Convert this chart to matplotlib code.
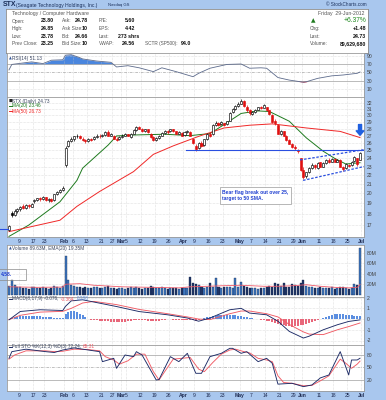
import numpy as np
import matplotlib
matplotlib.use('Agg')
import matplotlib.pyplot as plt
from matplotlib.lines import Line2D
from matplotlib.patches import Rectangle
from matplotlib.ticker import FixedLocator, FixedFormatter, NullLocator

plt.rcParams['font.family'] = ['Liberation Sans', 'DejaVu Sans']

# ---------------- data (trading days Jan 3 .. Jun 29, 2012) ----------------
opens = [16.55, 18.10, 17.90, 18.30, 18.45, 18.75, 18.50, 18.80, 18.65, 19.20,
         19.30, 19.50, 19.40, 19.60, 19.30, 19.40, 19.30, 19.95, 20.10, 20.40,
         23.20, 25.60, 26.30, 26.50, 26.90, 27.00, 26.60, 26.40, 26.20, 26.50,
         26.50, 26.80, 27.00, 26.90, 27.10, 27.50, 27.00, 27.00, 26.60, 26.50,
         26.80, 27.00, 27.20, 26.80, 27.30, 27.80, 28.20, 28.00, 27.60, 27.90,
         27.30, 26.80, 26.40, 26.70, 27.00, 27.40, 27.70, 27.60, 27.90, 27.60,
         27.30, 27.40, 27.10, 27.50, 27.50, 26.60, 25.60, 25.30, 26.00, 25.70,
         26.50, 27.30, 27.20, 28.60, 28.90, 28.70, 28.80, 28.70, 29.20, 30.50,
         31.00, 31.50, 31.90, 32.40, 31.40, 30.80, 30.20, 30.50, 30.90, 31.30,
         31.20, 31.30, 30.80, 30.10, 29.20, 28.60, 27.30, 27.60, 27.00, 26.40,
         25.90, 25.50, 25.00, 24.00, 22.60, 21.90, 22.30, 22.80, 23.20, 22.80,
         23.50, 23.00, 23.40, 23.80, 23.60, 23.90, 23.60, 23.80, 23.00, 22.80,
         23.20, 23.20, 23.70, 24.00, 23.80]
highs = [17.00, 18.25, 18.40, 18.55, 18.75, 18.90, 18.90, 18.95, 19.05, 19.45,
         19.55, 19.60, 19.70, 19.65, 19.50, 19.50, 19.95, 20.30, 20.50, 20.75,
         25.60, 26.40, 26.80, 27.00, 27.20, 27.10, 26.80, 26.60, 26.70, 26.70,
         26.90, 27.20, 27.20, 27.30, 27.70, 27.80, 27.40, 27.10, 26.80, 26.90,
         27.20, 27.40, 27.30, 27.40, 27.90, 28.40, 28.40, 28.10, 28.00, 28.00,
         27.40, 26.90, 26.80, 27.10, 27.50, 27.80, 27.80, 28.00, 28.00, 27.70,
         27.60, 27.50, 27.60, 27.80, 27.60, 26.70, 25.80, 26.10, 26.20, 26.60,
         27.40, 27.50, 28.70, 29.10, 29.00, 29.20, 28.90, 29.20, 30.60, 31.20,
         31.70, 32.10, 32.60, 32.50, 31.60, 31.00, 30.70, 31.00, 31.40, 31.50,
         31.80, 31.40, 30.90, 30.20, 29.40, 28.70, 27.80, 27.70, 27.10, 26.60,
         26.00, 25.70, 25.20, 24.10, 22.90, 22.40, 22.90, 23.40, 23.30, 23.50,
         23.60, 23.50, 23.90, 24.00, 24.00, 24.10, 23.90, 23.90, 23.10, 23.40,
         23.30, 23.70, 24.30, 24.10, 24.85]
lows = [16.45, 17.70, 17.80, 18.10, 18.30, 18.40, 18.45, 18.55, 18.60, 19.05,
        19.20, 19.25, 19.35, 19.20, 19.15, 19.10, 19.25, 19.85, 20.00, 20.25,
        23.00, 25.50, 26.10, 26.30, 26.70, 26.50, 26.20, 26.00, 26.10, 26.20,
        26.40, 26.70, 26.70, 26.80, 27.00, 26.90, 26.90, 26.50, 26.30, 26.40,
        26.70, 26.90, 26.90, 26.70, 27.20, 27.70, 27.90, 27.50, 27.50, 27.40,
        26.70, 26.30, 26.30, 26.60, 26.90, 27.30, 27.30, 27.50, 27.50, 27.20,
        27.20, 26.90, 27.00, 27.40, 26.90, 25.90, 24.90, 25.20, 25.50, 25.60,
        26.40, 26.80, 27.10, 28.40, 28.40, 28.60, 28.40, 28.60, 29.10, 30.30,
        30.90, 31.30, 31.80, 31.30, 30.60, 30.10, 30.00, 30.40, 30.80, 31.00,
        31.10, 30.70, 30.10, 28.90, 28.60, 27.20, 27.10, 26.90, 26.20, 25.80,
        25.30, 25.10, 24.70, 22.50, 21.60, 21.70, 22.20, 22.70, 22.70, 22.70,
        22.90, 22.90, 23.30, 23.40, 23.50, 23.50, 23.50, 22.90, 22.50, 22.70,
        22.90, 23.10, 23.60, 23.10, 23.78]
closes = [16.90, 17.85, 18.30, 18.45, 18.65, 18.50, 18.80, 18.70, 18.95, 19.30,
          19.50, 19.40, 19.60, 19.30, 19.40, 19.20, 19.90, 20.20, 20.40, 20.60,
          25.30, 26.20, 26.60, 26.90, 27.00, 26.70, 26.40, 26.20, 26.50, 26.40,
          26.80, 27.00, 26.90, 27.10, 27.50, 27.00, 27.20, 26.60, 26.40, 26.80,
          27.00, 27.20, 27.00, 27.30, 27.80, 28.20, 28.00, 27.60, 27.90, 27.50,
          26.80, 26.40, 26.70, 27.00, 27.40, 27.70, 27.50, 27.90, 27.60, 27.30,
          27.50, 27.00, 27.50, 27.60, 27.00, 26.00, 25.20, 26.00, 25.60, 26.50,
          27.30, 27.00, 28.60, 28.90, 28.60, 29.00, 28.60, 29.10, 30.40, 31.00,
          31.50, 31.90, 32.40, 31.50, 30.80, 30.30, 30.50, 30.90, 31.30, 31.20,
          31.60, 30.90, 30.20, 29.00, 28.80, 27.30, 27.60, 27.00, 26.40, 25.90,
          25.40, 25.30, 24.90, 22.60, 21.80, 22.30, 22.80, 23.20, 22.90, 23.40,
          23.00, 23.40, 23.80, 23.60, 23.90, 23.60, 23.80, 23.00, 22.70, 23.30,
          23.10, 23.60, 24.20, 23.25, 24.73]
volumes_m = [16, 28, 18, 14, 15, 13, 12, 11, 14, 15,
             13, 12, 14, 13, 11, 12, 16, 15, 13, 17,
             75, 28, 18, 17, 15, 14, 13, 14, 12, 13,
             14, 15, 12, 13, 14, 16, 12, 13, 11, 13,
             12, 11, 12, 14, 13, 15, 12, 11, 12, 13,
             16, 15, 12, 13, 14, 12, 11, 12, 13, 12,
             11, 12, 13, 12, 33, 22, 20, 18, 14, 13,
             14, 22, 15, 31, 15, 13, 14, 15, 14, 13,
             32, 14, 24, 16, 15, 13, 12, 13, 11, 12,
             13, 14, 16, 15, 22, 21, 16, 22, 15, 14,
             20, 18, 17, 22, 28, 17, 15, 14, 13, 12,
             14, 12, 13, 12, 15, 11, 12, 14, 15, 12,
             11, 13, 20, 19, 89.63]

ma20_idx = [0, 7, 18, 24, 26, 35, 38, 45, 55, 64, 71, 76, 82, 88, 92, 99, 105, 111, 115, 119, 124]
ma20_val = [16.0, 16.97, 19.15, 21.4, 22.8, 25.7, 26.96, 27.1, 27.2, 27.0, 27.3, 28.6, 30.3, 30.7, 30.6, 29.1, 26.7, 24.9, 24.0, 23.3, 23.46]
ma50_idx = [0, 18, 24, 32, 44, 51, 58, 67, 76, 85, 93, 105, 117, 124]
ma50_val = [16.4, 17.4, 18.7, 20.2, 22.4, 24.5, 25.6, 26.9, 28.1, 28.5, 28.7, 28.1, 27.6, 26.73]

vol_ema_idx = [0, 10, 19, 20, 25, 30, 40, 50, 60, 64, 70, 75, 82, 90, 95, 100, 105, 110, 115, 120, 123, 124]
vol_ema_val = [15, 14, 14.5, 20, 21, 18, 15, 14, 13, 15, 16, 17, 18, 16, 16, 17, 19, 16, 14, 13, 14, 19.35]

rsi_idx = [0, 1, 8, 12, 15, 19, 20, 22, 25, 26, 31, 36, 38, 42, 46, 51, 54, 59, 65, 67, 71, 77, 82, 85, 89, 91, 95, 99, 104, 105, 109, 114, 118, 123, 124]
rsi_val = [56, 69, 75, 71, 79, 80, 91, 92, 85, 82, 77, 74, 63, 66, 61, 52, 61, 52, 40, 48, 60, 69, 70, 60, 61, 60, 38, 32, 27, 28, 36, 42, 44, 48, 51.13]

macd_idx = [0, 4, 11, 19, 20, 22, 26, 38, 46, 56, 63, 67, 71, 78, 82, 85, 91, 95, 99, 104, 106, 111, 116, 120, 124]
macd_val = [-0.07, 0.71, 0.87, 0.8, 1.2, 1.7, 1.8, 1.17, 0.7, 0.4, 0.1, -0.2, 0.1, 0.87, 1.0, 0.56, 0.4, -0.2, -1.15, -1.77, -1.6, -1.0, -0.53, -0.22, -0.076]
signal_idx = [0, 4, 11, 19, 22, 26, 30, 38, 46, 56, 63, 67, 71, 78, 82, 85, 91, 95, 99, 104, 106, 111, 116, 120, 124]
signal_val = [-0.05, 0.35, 0.65, 0.72, 1.0, 1.5, 1.65, 1.35, 0.9, 0.5, 0.2, 0.0, -0.05, 0.5, 0.75, 0.75, 0.5, 0.2, -0.5, -1.2, -1.4, -1.45, -1.0, -0.7, -0.364]
hist_val = [0.05, 0.12, 0.18, 0.22, 0.25, 0.28, 0.28, 0.27, 0.25, 0.26,
            0.27, 0.26, 0.24, 0.2, 0.18, 0.15, 0.12, 0.12, 0.1,
            0.1, 0.45, 0.65, 0.75, 0.72, 0.62, 0.5, 0.35, 0.2,
            0.05, -0.05, -0.1, -0.12, -0.15, -0.18, -0.2, -0.22, -0.25, -0.27,
            -0.3, -0.28, -0.26, -0.24, -0.2, -0.17, -0.12, -0.08, -0.05, -0.06,
            -0.1, -0.15, -0.2, -0.22, -0.2, -0.16, -0.1, -0.06, -0.03, -0.02,
            -0.05, -0.08, -0.1, -0.1, -0.08, -0.05,
            -0.08, -0.12, -0.15, -0.1, -0.02,
            0.08, 0.15, 0.22, 0.28, 0.32, 0.35, 0.36, 0.38, 0.4, 0.42,
            0.4, 0.36, 0.3, 0.25, 0.2, 0.15, 0.1, 0.06, 0.03, 0.0,
            -0.05, -0.1, -0.15, -0.2, -0.28, -0.36, -0.45, -0.52, -0.58, -0.64,
            -0.68, -0.7, -0.66, -0.62, -0.58, -0.55,
            -0.45, -0.35, -0.25, -0.15, -0.06, 0.02, 0.1,
            0.2, 0.3, 0.38, 0.45, 0.5, 0.52, 0.45, 0.4, 0.38, 0.35, 0.32, 0.3, 0.288]

stok_idx = [0, 1, 6, 13, 16, 19, 23, 28, 32, 33, 37, 38, 41, 44, 45, 47, 52, 53, 57, 60, 63, 66, 68, 71, 75, 78, 79, 82, 84, 88, 91, 93, 95, 100, 104, 107, 110, 113, 117, 120, 121, 123, 124]
stok_val = [72, 88, 94, 88, 86, 92, 97, 92, 88, 64, 72, 48, 80, 76, 88, 80, 20, 21, 76, 64, 84, 36, 36, 76, 84, 96, 96, 84, 88, 64, 72, 60, 10, 12, 4, 8, 25, 32, 88, 32, 68, 68, 72.24]
stod_idx = [0, 2, 6, 13, 16, 19, 23, 28, 32, 34, 37, 39, 42, 45, 48, 51, 53, 56, 58, 61, 64, 67, 69, 72, 75, 78, 80, 83, 85, 88, 91, 93, 95, 97, 100, 104, 107, 110, 113, 117, 119, 121, 123, 124]
stod_val = [70, 80, 90, 90, 88, 89, 94, 93, 90, 76, 68, 58, 66, 82, 82, 40, 20, 50, 70, 72, 74, 46, 40, 62, 82, 92, 94, 88, 85, 72, 68, 64, 30, 14, 12, 6, 7, 18, 30, 70, 60, 48, 58, 65.31]

date_tick_idx = [4, 9, 13, 20, 23, 28, 33, 37, 40, 42, 47, 52, 57, 62, 66, 71, 76, 82, 86, 91, 96, 101, 104, 110, 115, 120, 125]
date_tick_lbl = ['9', '17', '23', 'Feb', '6', '13', '21', '27', 'Mar', '5', '12', '19', '26', 'Apr',
                 '9', '16', '23', 'May', '7', '14', '21', '29', 'Jun', '11', '18', '25', 'Jul']
month_lbls = {'Feb', 'Mar', 'Apr', 'May', 'Jun', 'Jul'}

price_ticks = [17, 18, 19, 20, 21, 22, 23, 24, 25, 26, 27, 28, 29, 30, 31, 32]

# ---------------- layout helpers ----------------
W, H = 386, 400
fig = plt.figure(figsize=(W / 100, H / 100), dpi=100)
BG = '#a9c7ee'
fig.patch.set_facecolor(BG)
TXT = '#2b3550'
GRID = '#c8c8c8'


def rect(x0, y0, x1, y1):
    return [x0 / W, 1 - y1 / H, (x1 - x0) / W, (y1 - y0) / H]


def T(x, y, s, **kw):
    kw.setdefault('size', 3.6)
    kw.setdefault('color', TXT)
    kw.setdefault('va', 'center')
    return fig.text(x / W, 1 - y / H, s, **kw)


renderer = fig.canvas.get_renderer()


def after(t, gap=1.5):
    """x pixel position just right of text t (measured by the renderer)."""
    bb = t.get_window_extent(renderer=renderer)
    return bb.x1 + gap


n = len(closes)
x = np.arange(n)
XL = (-0.7, 125.4)


def style_panel(ax, yticks, ylabels):
    ax.set_facecolor('white')
    ax.set_xlim(*XL)
    ax.yaxis.tick_right()
    ax.yaxis.set_major_locator(FixedLocator(yticks))
    ax.yaxis.set_major_formatter(FixedFormatter(ylabels))
    ax.yaxis.set_minor_locator(NullLocator())
    ax.tick_params(axis='y', which='both', length=0, pad=2, labelsize=3.6, labelcolor='#404040')
    ax.xaxis.set_major_locator(FixedLocator([i - 0.5 for i in date_tick_idx]))
    ax.tick_params(axis='x', length=0, labelbottom=False)
    ax.grid(True, which='major', color=GRID, lw=0.4, ls=(0, (1, 1.5)))
    for s in ax.spines.values():
        s.set_color('#9a9a9a')
        s.set_linewidth(0.6)


def date_labels(ax):
    ax.xaxis.set_major_formatter(FixedFormatter(date_tick_lbl))
    ax.tick_params(axis='x', labelbottom=True, labelsize=3.6, labelcolor='#1e2a50', pad=1.2)
    for t in ax.get_xticklabels():
        if t.get_text() in month_lbls:
            t.set_fontweight('bold')


# ---------------- title & info box ----------------
T(3, 5, 'STX', size=5.0, weight='bold', color='#1a2f5a')
T(16, 5, '(Seagate Technology Holdings, Inc.)', size=3.6, color='#1a2f5a')
T(108, 5, 'Nasdaq GS', size=3.0, color='#1a2f5a')
T(367, 5, '\u00a9 StockCharts.com', size=3.3, color='#1a2f5a', ha='right')

axi = fig.add_axes(rect(6, 9, 368, 53))
axi.set_xlim(0, 1)
axi.set_ylim(0, 1)
axi.set_xticks([])
axi.set_yticks([])
axi.set_facecolor('white')
for s in axi.spines.values():
    s.set_color('#8a8a8a')
    s.set_linewidth(0.6)

LBL = '#555555'
VAL = '#111111'
T(11.5, 14, 'Technology / Computer Hardware', size=3.7, color=LBL)
T(365, 14, 'Friday  29-Jun-2012', size=3.7, color=LBL, ha='right')
rows_y = [21, 28.5, 36, 43.5]
col1 = ['Open:', 'High:', 'Low:', 'Prev Close:']
val1 = ['23.80', '24.85', '23.78', '23.25']
col2 = ['Ask:', 'Ask Size:', 'Bid:', 'Bid Size:']
val2 = ['24.78', '10', '24.66', '10']
col3 = ['P/E:', 'EPS:', 'Last:', 'VWAP:']
val3 = ['5.60', '4.42', '273 shrs', '24.56']
for k, yy in enumerate(rows_y):
    T(11.5, yy, col1[k], size=3.5, color=LBL)
    T(53.5, yy, val1[k], size=3.8, color=VAL, weight='bold', ha='right')
    T(61.5, yy, col2[k], size=3.5, color=LBL)
    T(88, yy, val2[k], size=3.8, color=VAL, weight='bold', ha='right')
    T(98.5, yy, col3[k], size=3.5, color=LBL)
    T(139.5 if k == 2 else 135.5, yy, val3[k], size=3.8, color=VAL, weight='bold', ha='right')
t_sctr = T(145, 43.5, 'SCTR (SP500):', size=3.4, color=LBL)
T(after(t_sctr, 3), 43.5, '94.0', size=3.8, color=VAL, weight='bold')
T(313, 21, '\u25b2', size=4.2, color='#1f7a1f', ha='center', family='DejaVu Sans')
T(366, 21, '+6.37%', size=4.8, color='#1f8a1f', ha='right')
T(310, 28.5, 'Chg:', size=3.5, color=LBL)
T(366, 28.5, '+1.48', size=3.8, color=VAL, weight='bold', ha='right')
T(310, 36, 'Last:', size=3.5, color=LBL)
T(366, 36, '24.73', size=3.8, color=VAL, weight='bold', ha='right')
T(310, 43.5, 'Volume:', size=3.5, color=LBL)
T(366, 43.5, '89,629,680', size=3.8, color=VAL, weight='bold', ha='right')

# ---------------- RSI panel ----------------
axr = fig.add_axes(rect(7, 53, 364, 97))
style_panel(axr, [10, 30, 50, 70, 90], ['10', '30', '50', '70', '90'])
axr.set_ylim(-8, 96)
axr.grid(False, axis='y')
axr.axhline(70, color='#a0a0a0', lw=0.5)
axr.axhline(30, color='#a0a0a0', lw=0.5)
axr.axhline(50, color='#a8a8a8', lw=0.5, ls=(0, (4, 1.5, 1, 1.5)))
for yv in (10, 90):
    axr.axhline(yv, color=GRID, lw=0.4, ls=(0, (1, 1.5)))
ri = np.array(rsi_idx, float)
rv = np.array(rsi_val, float)
axr.fill_between(ri, 70, rv, where=rv > 70, interpolate=True, color='#4a86de', lw=0)
axr.fill_between(ri, 30, rv, where=rv < 30, interpolate=True, color='#e0304a', lw=0)
axr.plot(ri, rv, color='#5d6b8c', lw=0.6)
T(9, 58.5, '\u25b2', size=2.6, color='#3a5a9a', family='DejaVu Sans')
T(12, 58.5, 'RSI(14) 51.13', size=3.4, color='#3a4560')

# ---------------- price panel ----------------
axp = fig.add_axes(rect(7, 97, 364, 237))
axp.set_yscale('log')
style_panel(axp, price_ticks, [str(v) for v in price_ticks])
axp.set_ylim(15.95, 33.0)
date_labels(axp)

O = np.array(opens)
C = np.array(closes)
Hh = np.array(highs)
Ll = np.array(lows)
prevc = np.r_[C[0], C[:-1]]
cols = np.where(C < prevc, '#e01010', '#000000')
axp.vlines(x, Ll, Hh, colors=cols, lw=0.5, zorder=3)
hollow = C >= O
body_lo = np.minimum(O, C)
body_h = np.maximum(np.abs(C - O), 0.04)
fc = np.where(hollow, 'white', cols)
axp.bar(x, body_h, bottom=body_lo, width=0.72, color=fc, edgecolor=cols, lw=0.45, zorder=4)

axp.plot(ma20_idx, ma20_val, color='#1e7a1e', lw=0.7, zorder=2)
axp.plot(ma50_idx, ma50_val, color='#f02828', lw=0.7, zorder=2)

# annotations drawn by the chartist
BL = '#2a4fe0'
axp.plot([62.5, 125.4], [25.0, 25.0], color=BL, lw=0.8, zorder=5)
axp.plot([102.8, 125.4], [23.8, 25.1], color=BL, lw=0.9, ls=(0, (2, 1.3)), zorder=5)
axp.plot([103.9, 125.4], [21.4, 23.0], color=BL, lw=0.9, ls=(0, (2, 1.3)), zorder=5)
axp.annotate('', xy=(124, 27.05), xytext=(124, 28.6),
             arrowprops=dict(facecolor='#2060e0', edgecolor='#2060e0', width=2.2,
                             headwidth=5.5, headlength=3.2, shrink=0), zorder=6)
fig.add_artist(Line2D([0, 7.5 / W], [1 - 229 / H, 1 - 229 / H], color=BL, lw=0.8))

T(222, 195.5, 'Bear flag break out over 25,\ntarget to 50 SMA.', size=3.6, color='#1f3fd0',
  weight='bold', linespacing=1.4,
  bbox=dict(boxstyle='square,pad=0.45', fc='white', ec='#9a9a9a', lw=0.5))

T(9, 101, '\u25a0', size=3.0, color='#222222', family='DejaVu Sans')
T(12, 101, 'STX (Daily) 24.73', size=3.4, color='#3a4560')
fig.add_artist(Line2D([9 / W, 12 / W], [1 - 106 / H] * 2, color='#1e7a1e', lw=0.7))
T(12.5, 106, 'MA(20) 23.46', size=3.4, color='#1e7a1e')
fig.add_artist(Line2D([9 / W, 12 / W], [1 - 111.3 / H] * 2, color='#f02828', lw=0.7))
T(12.5, 111.3, 'MA(50) 26.73', size=3.4, color='#f02828')

# ---------------- volume panel ----------------
axv = fig.add_axes(rect(7, 245, 364, 297))
style_panel(axv, [20, 40, 60, 80], ['20M', '40M', '60M', '80M'])
axv.set_ylim(-4.6, 95.4)
V = np.array(volumes_m)
vcols = np.where(C < prevc, '#1f3566', '#3f78c0')
axv.bar(x, V, width=0.72, color=vcols, edgecolor='#14264a', lw=0.25, zorder=3)
axv.plot(vol_ema_idx, vol_ema_val, color='#f05a6a', lw=0.6, zorder=4)
T(9, 248.5, '\u25b2', size=2.6, color='#3a5a9a', family='DejaVu Sans')
T(12, 248.5, 'Volume 89.63M, EMA(20) 19.35M', size=3.4, color='#3a4560')

# leftover annotation box at the left edge
T(0.5, 274.5, '4.58.', size=3.6, color='#1f3fd0', weight='bold')
fig.add_artist(Rectangle((-2 / W, 1 - 280 / H), 28 / W, 11 / H, transform=fig.transFigure,
                         fc='none', ec='#8a8a8a', lw=0.5))

# ---------------- MACD panel ----------------
axm = fig.add_axes(rect(7, 297, 364, 345))
style_panel(axm, [-2, -1, 0, 1, 2], ['-2', '-1', '0', '1', '2'])
axm.set_ylim(-2.42, 2.06)
hv = np.array(hist_val)
hx = np.arange(len(hv))
axm.bar(hx, hv, width=0.72, color=np.where(hv >= 0, '#5b8ee0', '#e8677a'), lw=0, zorder=2)
axm.plot(signal_idx, signal_val, color='#f05a64', lw=0.65, zorder=3)
axm.plot(macd_idx, macd_val, color='#1c2a66', lw=0.65, zorder=4)
fig.add_artist(Line2D([9 / W, 12 / W], [1 - 298.5 / H] * 2, color='#1c2a66', lw=0.7))
t1 = T(12.5, 298.5, 'MACD(8,17,9) -0.076,', size=3.4, color='#3a4560')
t2 = T(after(t1), 298.5, '-0.364,', size=3.4, color='#f05a64')
T(after(t2), 298.5, '0.288', size=3.4, color='#5b8ee0')

# ---------------- Full STO panel ----------------
axs = fig.add_axes(rect(7, 345, 364, 391))
style_panel(axs, [20, 50, 80], ['20', '50', '80'])
axs.set_ylim(-6.5, 104)
axs.grid(False, axis='y')
axs.axhline(80, color='#a0a0a0', lw=0.5)
axs.axhline(20, color='#a0a0a0', lw=0.5)
axs.axhline(50, color='#a8a8a8', lw=0.5, ls=(0, (4, 1.5, 1, 1.5)))
axs.plot(stod_idx, stod_val, color='#f05a64', lw=0.65, zorder=3)
axs.plot(stok_idx, stok_val, color='#1c2a66', lw=0.65, zorder=4)
date_labels(axs)
fig.add_artist(Line2D([9 / W, 12 / W], [1 - 346.5 / H] * 2, color='#1c2a66', lw=0.7))
t3 = T(12.5, 346.5, 'Full STO %K(12,3) %D(3) 72.24,', size=3.4, color='#3a4560')
T(after(t3), 346.5, '65.31', size=3.4, color='#f05a64')

fig.savefig('out.png', dpi=100, facecolor=fig.get_facecolor())
